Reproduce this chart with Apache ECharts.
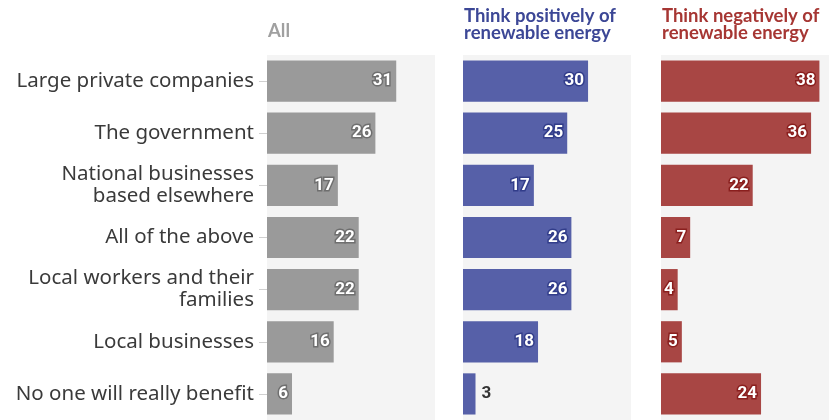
<!DOCTYPE html>
<html>
<head>
<meta charset="utf-8">
<script src="https://cdn.jsdelivr.net/npm/echarts@6/dist/echarts.min.js"></script>
<style>
  html, body { margin: 0; padding: 0; background: #ffffff; }
  #chart { width: 837px; height: 420px; }
</style>
</head>
<body>
<div id="chart"></div>
<script>
// Who benefits: share of respondents per group
const categories = [
  'Large private companies',
  'The government',
  'National businesses\nbased elsewhere',
  'All of the above',
  'Local workers and their\nfamilies',
  'Local businesses',
  'No one will really benefit'
];
const panelTitles = ['All', 'Think positively of\nrenewable energy', 'Think negatively of\nrenewable energy'];
const allValues      = [31, 26, 17, 22, 22, 16, 6];
const positiveValues = [30, 25, 17, 26, 26, 18, 3];
const negativeValues = [38, 36, 22, 7, 4, 5, 24];

const panels = [
  { values: allValues,      color: '#9a9a9a', border: '#6f6f6f', titleColor: '#a0a0a0', left: 267 },
  { values: positiveValues, color: '#5660a8', border: '#323d8a', titleColor: '#3c4796', left: 463 },
  { values: negativeValues, color: '#a84644', border: '#8a1f1e', titleColor: '#a63633', left: 661 }
];

const panelWidth = 168;
const axisMax = 40.3;

const grids = [], xAxes = [], yAxes = [], series = [], titles = [];
panels.forEach((p, i) => {
  grids.push({
    left: p.left, top: 55, width: panelWidth, height: 366,
    show: true, backgroundColor: '#f4f4f4', borderWidth: 0, containLabel: false
  });
  xAxes.push({
    type: 'value', gridIndex: i, min: 0, max: axisMax, show: false
  });
  yAxes.push({
    type: 'category', gridIndex: i, data: categories, inverse: true,
    axisLine: { show: false },
    axisTick: { show: i === 0, alignWithLabel: true, length: 8, lineStyle: { color: '#d0d0d0' } },
    axisLabel: {
      show: i === 0, margin: 13, fontFamily: 'Noto Sans', fontSize: 20.5,
      color: '#3a3a3a', lineHeight: 22, align: 'right'
    }
  });
  series.push({
    type: 'bar', xAxisIndex: i, yAxisIndex: i, barCategoryGap: '21%',
    itemStyle: { color: p.color },
    data: p.values.map(v => {
      const d = { value: v };
      if (v < 4) {
        d.label = {
          position: 'right', distance: 6, color: '#333333',
          textBorderWidth: 0
        };
      }
      return d;
    }),
    label: {
      show: true, position: 'insideRight', distance: 4,
      fontFamily: 'Roboto', fontWeight: 'bold', fontSize: 17,
      color: '#ffffff', textBorderColor: p.border, textBorderWidth: 3
    },
    silent: true
  });
  titles.push({
    text: panelTitles[i], left: p.left - 4, top: i === 0 ? 18 : 3,
    textStyle: {
      fontFamily: 'Lato', fontWeight: 'bold', fontSize: 18.5,
      lineHeight: 16.5, color: p.titleColor
    }
  });
});

const chart = echarts.init(document.getElementById('chart'), null, { renderer: 'canvas' });
chart.setOption({
  animation: false,
  title: titles,
  grid: grids,
  xAxis: xAxes,
  yAxis: yAxes,
  series: series
});
</script>
</body>
</html>
